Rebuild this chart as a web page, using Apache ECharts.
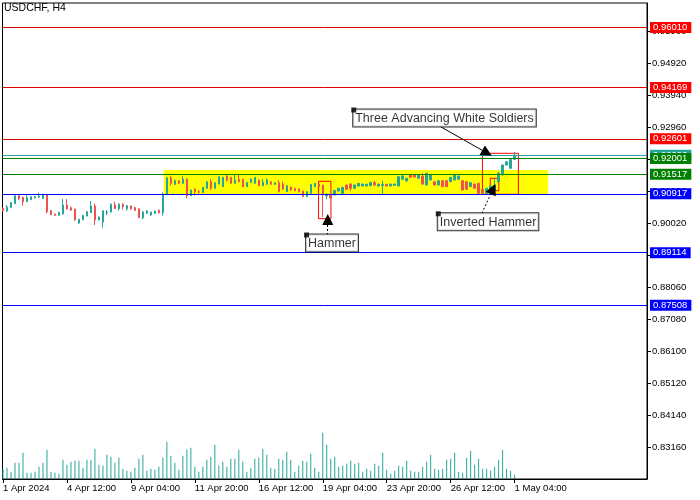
<!DOCTYPE html>
<html><head><meta charset="utf-8">
<script src="https://cdn.jsdelivr.net/npm/echarts@6/dist/echarts.min.js"></script>
<style>html,body{margin:0;padding:0;background:#fff}#c{width:700px;height:500px}</style>
</head><body><div id="c"></div>
<script>
// ---- DATA ----
const open = [
0.90473,0.90391,0.90504,0.90615,0.90860,0.90811,0.90676,0.90737,0.90798,0.90811,
0.90780,0.90902,0.90400,0.90299,0.90259,0.90299,0.90575,0.90492,0.90452,0.90024,
0.90125,0.90238,0.90339,0.90544,0.90116,0.90055,0.90330,0.90360,0.90575,0.90461,
0.90596,0.90461,0.90544,0.90492,0.90461,0.90186,0.90320,0.90269,0.90320,0.90412,
0.90339,0.90902,0.91410,0.91208,0.91318,0.91239,0.91370,0.90860,0.91064,0.90982,
0.90951,0.91086,0.91288,0.91086,0.91217,0.91135,0.91462,0.91422,0.91239,0.91361,
0.91361,0.91135,0.91269,0.91239,0.91340,0.91165,0.91217,0.91288,0.91208,0.91257,
0.91208,0.90982,0.91117,0.91086,0.91064,0.91003,0.90829,0.90933,0.91135,0.91217,
0.91187,0.90850,0.90896,0.90881,0.91003,0.90933,0.91187,0.91217,0.91086,0.91156,
0.91156,0.91156,0.91165,0.91257,0.91156,0.91172,0.91208,0.91156,0.91178,0.91156,
0.91361,0.91309,0.91493,0.91493,0.91392,0.91462,0.91187,0.91340,0.91288,0.91187,
0.91318,0.91318,0.91288,0.91340,0.91361,0.91318,0.91288,0.91135,0.91217,0.91239,
0.91055,0.90933,0.91034,0.91049,0.91288,0.91493,0.91799,0.91698,0.91973];
const close = [
0.90400,0.90514,0.90645,0.90860,0.90768,0.90676,0.90798,0.90829,0.90829,0.90841,
0.90902,0.90369,0.90278,0.90259,0.90351,0.90575,0.90452,0.90422,0.90116,0.90137,
0.90259,0.90369,0.90544,0.90116,0.90207,0.90400,0.90360,0.90596,0.90461,0.90596,
0.90523,0.90554,0.90452,0.90412,0.90186,0.90360,0.90400,0.90360,0.90391,0.90339,
0.90902,0.91410,0.91239,0.91318,0.91239,0.91370,0.90860,0.91034,0.90982,0.90963,
0.91117,0.91288,0.91086,0.91257,0.91441,0.91422,0.91340,0.91239,0.91340,0.91288,
0.91135,0.91269,0.91370,0.91422,0.91165,0.91269,0.91340,0.91208,0.91257,0.90982,
0.91064,0.91165,0.91034,0.91012,0.90982,0.90829,0.90982,0.91208,0.91239,0.91147,
0.90881,0.90881,0.90789,0.91019,0.91086,0.91117,0.91055,0.91086,0.91187,0.91239,
0.91217,0.91208,0.91269,0.91187,0.91217,0.91202,0.91156,0.91217,0.91217,0.91441,
0.91462,0.91392,0.91422,0.91431,0.91493,0.91217,0.91545,0.91493,0.91187,0.91318,
0.91135,0.91135,0.91422,0.91493,0.91462,0.91034,0.91055,0.91257,0.91086,0.90933,
0.90933,0.91086,0.91156,0.91172,0.91545,0.91799,0.91900,0.91973,0.92096];
const low = [
0.90376,0.90360,0.90483,0.90606,0.90728,0.90554,0.90667,0.90728,0.90768,0.90798,
0.90759,0.90320,0.90269,0.90247,0.90247,0.90290,0.90443,0.90391,0.90094,0.89994,
0.90116,0.90229,0.90330,0.89963,0.90107,0.89880,0.90269,0.90351,0.90452,0.90400,
0.90431,0.90400,0.90431,0.90391,0.90177,0.90137,0.90308,0.90247,0.90308,0.90308,
0.90247,0.90881,0.91165,0.91187,0.91217,0.91226,0.90780,0.90850,0.90860,0.90933,
0.90942,0.91074,0.91034,0.91074,0.91208,0.91126,0.91288,0.91226,0.91226,0.91269,
0.91126,0.91126,0.91257,0.91226,0.91156,0.91147,0.91187,0.91196,0.91196,0.90963,
0.91034,0.90972,0.91003,0.91003,0.90963,0.90820,0.90820,0.90920,0.91126,0.91135,
0.90207,0.90749,0.90774,0.90866,0.90988,0.90920,0.91043,0.91003,0.91074,0.91147,
0.91147,0.91147,0.91156,0.91156,0.91147,0.90902,0.91147,0.91147,0.91165,0.91147,
0.91349,0.91300,0.91410,0.91410,0.91379,0.91187,0.91178,0.91331,0.91178,0.91178,
0.91126,0.91126,0.91278,0.91331,0.91349,0.91025,0.91043,0.91126,0.91074,0.90881,
0.90920,0.90920,0.91025,0.91034,0.91278,0.91483,0.91790,0.91686,0.91961];
const high = [
0.90498,0.90575,0.90667,0.90881,0.90890,0.90829,0.90902,0.90841,0.90850,0.90951,
0.90911,0.90911,0.90431,0.90308,0.90369,0.90759,0.90759,0.90523,0.90455,0.90156,
0.90269,0.90391,0.90697,0.90615,0.90217,0.90405,0.90422,0.90627,0.90676,0.90627,
0.90627,0.90575,0.90560,0.90523,0.90473,0.90400,0.90412,0.90369,0.90400,0.90443,
0.90963,0.91431,0.91471,0.91361,0.91340,0.91462,0.91392,0.91043,0.91086,0.91034,
0.91126,0.91300,0.91370,0.91269,0.91453,0.91441,0.91514,0.91431,0.91493,0.91514,
0.91370,0.91278,0.91392,0.91431,0.91349,0.91370,0.91392,0.91300,0.91269,0.91340,
0.91288,0.91178,0.91147,0.91095,0.91086,0.91012,0.90994,0.91217,0.91248,0.91226,
0.91196,0.90933,0.90911,0.91034,0.91095,0.91126,0.91196,0.91239,0.91196,0.91248,
0.91226,0.91226,0.91278,0.91318,0.91226,0.91318,0.91217,0.91226,0.91226,0.91453,
0.91514,0.91401,0.91502,0.91502,0.91502,0.91545,0.91554,0.91502,0.91300,0.91331,
0.91331,0.91331,0.91431,0.91514,0.91471,0.91331,0.91300,0.91269,0.91226,0.91248,
0.91064,0.91095,0.91165,0.91370,0.91594,0.91808,0.91912,0.91982,0.92197];
const volume = [
1000,1130,730,1630,1630,2630,630,630,730,1230,
1630,2930,730,630,530,1930,1430,1730,1830,1830,
1130,1930,1930,3030,1430,1330,2430,2230,1630,2130,
1030,830,730,1130,2030,2430,830,1030,930,1230,
2130,3730,2330,1630,930,2330,2930,3130,1230,730,
1230,1930,2230,3430,1330,1730,1230,2030,2030,2930,
1730,730,1130,2030,2130,3030,2430,1130,1030,2030,
1930,2730,1930,730,1330,1830,1730,2530,1130,730,
4630,3430,2030,2230,1230,1330,1530,1830,1530,1630,
730,1030,830,1530,1330,2630,930,530,830,1330,
1230,1830,830,730,730,1230,1730,2430,1030,930,
1030,1930,2030,2630,730,630,2130,2830,1430,2030,
1030,1030,830,1230,1930,2930,1030,830,430];
const tickBars = [0,16,32,48,64,80,96,112,128];
const tickLabels = ['1 Apr 2024','4 Apr 12:00','9 Apr 04:00','11 Apr 20:00','16 Apr 12:00','19 Apr 04:00','23 Apr 20:00','26 Apr 12:00','1 May 04:00'];
const priceTicks = [0.83160,0.84140,0.85120,0.86100,0.87080,0.88060,0.89040,0.90020,0.91000,0.91980,0.92960,0.93940,0.94920,0.95900];
const levelPrices = [0.96010,0.94169,0.92601,0.92001,0.91517,0.90917,0.89114,0.87508];
const levelKinds = ['r','r','r','g','g','b','b','b'];
const zoneBars = [40.2,136.4];
const zonePrices = [0.91646,0.90887];
const boxBars = [[78.95,82.05],[119.95,128.95],[121.9,124.05]];
const boxPrices = [[0.91300,0.90156],[0.92157,0.90902],[0.91392,0.91012]];
const noteTexts = ['Three Advancing White Soldiers','Hammer','Inverted Hammer'];
const noteBars = [87.75,75.95,108.9];
const notePrices = [0.93482,0.89657,0.90306];
const arrowFromBars = [109.6,81.25,119.8];
const arrowFromPrices = [0.92962,0.89657,0.90320];
const arrowToBars = [121.1,81.25,122.6];
const arrowToPrices = [0.92166,0.90131,0.91064];
const arrowDotted = [false,true,true];

// ---- CHART ----
const FONT = '"Liberation Sans", Arial, sans-serif';
const UP = '#26a69a', DOWN = '#ef5350';
const boxColor = {r:'#ff0000', g:'#008000', b:'#0000ff'};
const lineColor = {r:'#e00000', g:'#008000', b:'#0000ff'};
const chart = echarts.init(document.getElementById('c'), null, {renderer:'canvas'});
const candleData = open.map((o,i)=>[i, o, close[i], low[i], high[i]]);
const volData = volume.map((v,i)=>[i, v]);
const lastPrice = close[close.length-1];

const priceLabel = (bg) => ({show:true, position:'end', distance:3, color:'#fff', backgroundColor:bg,
  padding:[1,4,0,3], fontSize:9.5, lineHeight:10, fontFamily:FONT});

const levelLines = [{yAxis:lastPrice, lineStyle:{color:UP}, label:Object.assign(priceLabel(UP),{formatter:lastPrice.toFixed(5)})}]
  .concat(levelPrices.map((p,i)=>({yAxis:p, lineStyle:{color:lineColor[levelKinds[i]]},
    label:Object.assign(priceLabel(boxColor[levelKinds[i]]),{formatter:p.toFixed(5)})})));

const arrowSeries = arrowFromBars.map((x,i)=>({
  type:'line', data:[], z:4, silent:true,
  markLine:{silent:true, precision:5, symbol:['none','triangle'], symbolSize:11, emphasis:{disabled:true},
    label:{show:false},
    itemStyle:{color:'#000'},
    lineStyle:{color:'#000', width:1, type: arrowDotted[i]?[2,2]:'solid', opacity:1},
    data:[[{coord:[x, arrowFromPrices[i]]},{coord:[arrowToBars[i], arrowToPrices[i]]}]]}
}));

const option = {
  animation:false,
  backgroundColor:'#fff',
  title:{text:'USDCHF, H4', left:4, top:3, padding:0,
    textStyle:{fontSize:10.5, fontWeight:'normal', color:'#000', fontFamily:FONT}},
  grid:{left:2, right:53, top:3, bottom:21, show:true, borderColor:'#000', borderWidth:1, backgroundColor:'transparent'},
  xAxis:{type:'value', min:-0.125, max:161.125, position:'bottom',
    axisLine:{show:true, onZero:false, lineStyle:{color:'#000', width:1}}, splitLine:{show:false},
    axisTick:{show:true, length:4, customValues:tickBars, lineStyle:{color:'#000'}},
    axisLabel:{customValues:tickBars, formatter:v=>tickLabels[tickBars.indexOf(Math.round(v))],
      align:'left', margin:4, fontSize:9.5, color:'#000', fontFamily:FONT}},
  yAxis:[
    {type:'value', position:'right', min:0.82191, max:0.96756, splitLine:{show:false},
     axisLine:{show:true, onZero:false, lineStyle:{color:'#000'}},
     axisTick:{show:true, length:4, customValues:priceTicks, lineStyle:{color:'#000'}},
     axisLabel:{customValues:priceTicks, formatter:v=>v.toFixed(5), margin:5, fontSize:9.5, color:'#000', fontFamily:FONT}},
    {type:'value', min:0, max:47600, show:false}
  ],
  series:[
    {type:'line', data:[], z:1, silent:true,
     markArea:{silent:true, itemStyle:{color:'#ffff00'}, emphasis:{disabled:true},
       data:[[{coord:[zoneBars[0], zonePrices[0]]},{coord:[zoneBars[1], zonePrices[1]]}]]}},
    {type:'candlestick', z:2, silent:true, data:candleData, encode:{x:0, y:[1,2,3,4]},
     barWidth:2,
     itemStyle:{color:UP, color0:DOWN, borderColor:UP, borderColor0:DOWN, borderWidth:1}},
    {type:'bar', z:2, silent:true, yAxisIndex:1, data:volData, barWidth:1, itemStyle:{color:UP}},
    {type:'line', data:[], z:3, silent:true,
     markLine:{silent:true, precision:5, symbol:['none','none'], emphasis:{disabled:true}, animation:false,
       lineStyle:{width:1, type:'solid'}, data:levelLines}},
    {type:'line', data:[], z:4, silent:true,
     markArea:{silent:true, emphasis:{disabled:true},
       itemStyle:{color:'rgba(0,0,0,0)', borderColor:'#ff0000', borderWidth:1},
       data:boxBars.map((b,i)=>[{coord:[b[0], boxPrices[i][0]]},{coord:[b[1], boxPrices[i][1]]}])}}
  ].concat(arrowSeries).concat([
    {type:'scatter', z:5, silent:true, symbolSize:1, itemStyle:{color:'rgba(0,0,0,0)'},
     data:noteTexts.map((t,i)=>({name:t, value:[noteBars[i], notePrices[i]]})),
     label:{show:true, formatter:'{b}', position:[0,0], align:'left', verticalAlign:'top',
       backgroundColor:'#fff', borderColor:'#000', borderWidth:1, padding:[2,2,1,2],
       fontSize:12.5, lineHeight:14, color:'#000', fontFamily:FONT}},
    {type:'scatter', z:6, silent:true, symbol:'rect', symbolSize:5, itemStyle:{color:'#000'},
     data:noteTexts.map((t,i)=>[noteBars[i], notePrices[i]])}
  ])
};
chart.setOption(option);
</script>
</body></html>
